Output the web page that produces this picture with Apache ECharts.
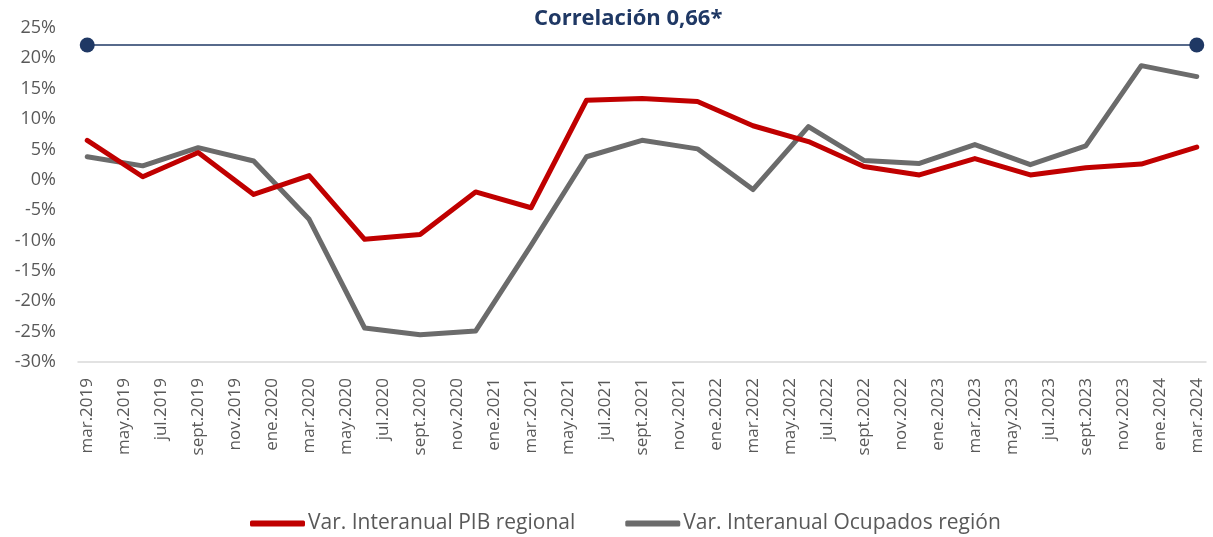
<!DOCTYPE html>
<html>
<head>
<meta charset="utf-8">
<script src="https://cdn.jsdelivr.net/npm/echarts@6/dist/echarts.min.js"></script>
<style>
  html, body { margin: 0; padding: 0; background: #fff; }
  #main { width: 1213px; height: 537px; }
</style>
</head>
<body>
<div id="main"></div>
<script>
// meses en español (eje mensual, etiquetas cada 2 meses)
const monthNames = ['ene', 'feb', 'mar', 'abr', 'may', 'jun', 'jul', 'ago', 'sept', 'oct', 'nov', 'dic'];

// trimestres con dato: mar.2019 ... mar.2024
const quarters = [
  'mar.2019', 'jun.2019', 'sept.2019', 'dic.2019',
  'mar.2020', 'jun.2020', 'sept.2020', 'dic.2020',
  'mar.2021', 'jun.2021', 'sept.2021', 'dic.2021',
  'mar.2022', 'jun.2022', 'sept.2022', 'dic.2022',
  'mar.2023', 'jun.2023', 'sept.2023', 'dic.2023',
  'mar.2024'
];
// Var. Interanual PIB regional (%)
const pibRegional = [6.5, 0.5, 4.5, -2.4, 0.7, -9.8, -9.0, -2.0, -4.6, 13.1, 13.4, 12.9, 8.9, 6.3, 2.2, 0.8, 3.5, 0.8, 2.0, 2.6, 5.4];
// Var. Interanual Ocupados región (%)
const ocupados = [3.8, 2.3, 5.3, 3.1, -6.5, -24.4, -25.5, -24.9, -10.8, 3.8, 6.5, 5.1, -1.6, 8.75, 3.2, 2.7, 5.8, 2.5, 5.6, 18.8, 17.0];

const correlacionNivel = 22.2;

// categorías mensuales mar.2019 - mar.2024
const months = [];
for (let y = 2019; y <= 2024; y++) {
  for (let m = 0; m < 12; m++) {
    if (y === 2019 && m < 2) continue;
    if (y === 2024 && m > 2) continue;
    months.push(monthNames[m] + '.' + y);
  }
}

function toMonthly(values) {
  const out = months.map(() => null);
  quarters.forEach((q, i) => {
    const idx = months.indexOf(q);
    if (idx >= 0) out[idx] = values[i];
  });
  return out;
}

const myChart = echarts.init(document.getElementById('main'));
const txt = '#595959';
myChart.setOption({
  animation: false,
  title: {
    text: 'Correlación 0,66*',
    left: 529,
    top: 3,
    textStyle: { color: '#1f3864', fontFamily: 'Open Sans', fontWeight: 'bold', fontSize: 22 }
  },
  legend: {
    top: 508,
    left: 245,
    itemWidth: 55,
    itemHeight: 6,
    itemGap: 50,
    icon: 'roundRect',
    textStyle: { color: txt, fontFamily: 'Open Sans', fontSize: 21, padding: [0, 0, 0, -2] },
    data: ['Var. Interanual PIB regional', 'Var. Interanual Ocupados región']
  },
  grid: { left: 78, right: 7, top: 28, bottom: 175 },
  xAxis: {
    type: 'category',
    data: months,
    boundaryGap: true,
    axisLine: { onZero: false, lineStyle: { color: '#d9d9d9', width: 1.5 } },
    axisTick: { interval: 1, length: 6, lineStyle: { color: '#d9d9d9', width: 1.5 } },
    axisLabel: {
      interval: 1,
      rotate: 90,
      margin: 16,
      color: txt,
      fontFamily: 'Open Sans',
      fontSize: 17
    },
    splitLine: { show: false }
  },
  yAxis: {
    type: 'value',
    min: -30,
    max: 25,
    interval: 5,
    axisLine: { show: false },
    axisTick: { show: false },
    splitLine: { show: false },
    axisLabel: {
      margin: 22,
      color: txt,
      fontFamily: 'Open Sans',
      fontSize: 18,
      formatter: v => v + '%'
    }
  },
  series: [
    {
      name: 'Var. Interanual PIB regional',
      type: 'line',
      data: toMonthly(pibRegional),
      connectNulls: true,
      showSymbol: false,
      symbol: 'none',
      color: '#c00000',
      lineStyle: { width: 5, color: '#c00000', cap: 'round', join: 'round' },
      z: 3,
      markLine: {
        silent: true,
        symbol: ['circle', 'circle'],
        symbolSize: 15,
        label: { show: false },
        lineStyle: { color: '#1f3864', width: 1.5, type: 'solid' },
        itemStyle: { color: '#1f3864' },
        data: [[
          { coord: [months[0], correlacionNivel] },
          { coord: [months[months.length - 1], correlacionNivel] }
        ]]
      }
    },
    {
      name: 'Var. Interanual Ocupados región',
      type: 'line',
      data: toMonthly(ocupados),
      connectNulls: true,
      showSymbol: false,
      symbol: 'none',
      color: '#6b6b6b',
      lineStyle: { width: 5, color: '#6b6b6b', cap: 'round', join: 'round' },
      z: 2
    }
  ]
});
</script>
</body>
</html>
